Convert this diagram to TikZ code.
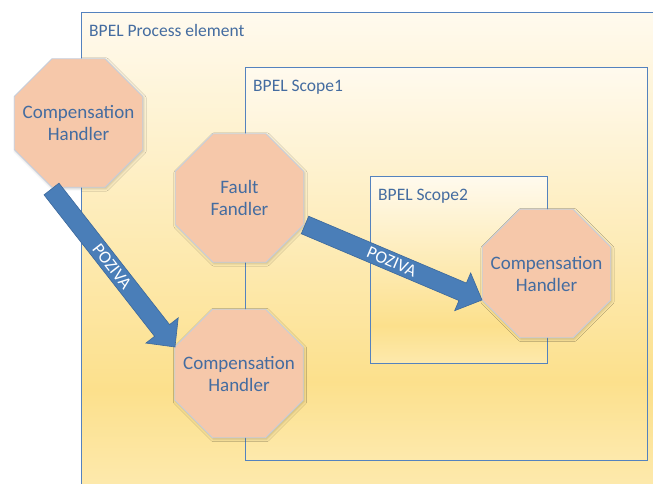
\documentclass[tikz,border=0pt]{standalone}
\usepackage{fontspec}
\setmainfont{Carlito}
\usetikzlibrary{shapes.geometric,calc,shadows.blur}
\definecolor{g0}{RGB}{255,250,238}
\definecolor{g2}{RGB}{252,224,140}
\definecolor{g3}{RGB}{253,233,172}
\definecolor{boxblue}{RGB}{84,130,190}
\definecolor{txtblue}{RGB}{68,108,160}
\definecolor{peach}{RGB}{246,200,170}
\definecolor{octaedge}{RGB}{198,206,220}
\definecolor{arrowblue}{RGB}{74,126,184}
\definecolor{arrowedge}{RGB}{60,104,155}
\pgfdeclareverticalshading{boxgrad}{100bp}{color(0bp)=(g3); color(25bp)=(g3); color(35bp)=(g2); color(75bp)=(g0); color(100bp)=(g0)}
\begin{document}
\begin{tikzpicture}[x=1pt,y=-1pt,
  boxline/.style={draw=boxblue, line width=1pt},
  container/.style={shade, shading=boxgrad, boxline, inner sep=0pt, outer sep=0pt, anchor=north west},
  octa/.style={regular polygon, regular polygon sides=8, minimum size=139pt, inner sep=0pt,
    fill=peach, draw=octaedge, line width=0.8pt,
    blur shadow={shadow xshift=1pt, shadow yshift=-1.5pt, shadow opacity=20, shadow blur radius=2.5pt}},
  octatext/.style={text=txtblue, align=center, inner sep=0pt, font=\fontsize{19}{22}\selectfont},
  boxlabel/.style={anchor=base west, inner sep=0pt, text=txtblue, font=\fontsize{17.5}{21}\selectfont},
  blockarrow/.style={fill=arrowblue, draw=arrowedge, line width=0.6pt, line join=miter},
  arrowtext/.style={text=white, font=\fontsize{17.5}{20}\selectfont, inner sep=0pt}
]
\useasboundingbox (0,0) rectangle (653,484);
% outer process element
\node[shade, shading=boxgrad, inner sep=0pt, outer sep=0pt, anchor=north west,
      minimum width=572pt, minimum height=471pt] (proc) at (81,13) {};
\draw[boxline] (proc.south west) -- (proc.north west) -- (proc.north east);
% scopes
\node[container, minimum width=402pt, minimum height=392pt] (scope1) at (245,68) {};
\node[container, minimum width=177pt, minimum height=187pt] (scope2) at (370,176) {};
% labels
\node[boxlabel] (lproc) at (89,36.5) {BPEL Process element};
\node[boxlabel] (lsc1) at (253,92) {BPEL Scope1};
\node[boxlabel] (lsc2) at (378,200) {BPEL Scope2};
% octagons
\node[octa] (ch1) at (78.5,123) {};
\node[octatext] (ch1t) at (ch1) {Compensation\\Handler};
\node[octa] (ff) at (239.5,198) {};
\node[octatext] (fft) at (ff) {Fault\\Fandler};
\node[octa] (ch2) at (239,373.5) {};
\node[octatext] (ch2t) at (ch2) {Compensation\\Handler};
\node[octa] (ch3) at (546.5,273.5) {};
\node[octatext] (ch3t) at (ch3) {Compensation\\Handler};
% arrow 1
\coordinate (a1t) at (51.5,189);
\coordinate (a1h) at (175,347);
\coordinate (a1b) at ($(a1h)!21pt!(a1t)$);
\filldraw[blockarrow] ($(a1t)!9.5pt!90:(a1h)$) -- ($(a1b)!9.5pt!90:(a1h)$) -- ($(a1b)!20.5pt!90:(a1h)$)
  -- (a1h) -- ($(a1b)!20.5pt!-90:(a1h)$) -- ($(a1b)!9.5pt!-90:(a1h)$) -- ($(a1t)!9.5pt!-90:(a1h)$) -- cycle;
\node[arrowtext, rotate=-52] (p1) at ($(a1t)!0.49!(a1h)$) {POZIVA};
% arrow 2
\coordinate (a2t) at (305,225);
\coordinate (a2h) at (482,300);
\coordinate (a2b) at ($(a2h)!21pt!(a2t)$);
\filldraw[blockarrow] ($(a2t)!9.5pt!90:(a2h)$) -- ($(a2b)!9.5pt!90:(a2h)$) -- ($(a2b)!20.5pt!90:(a2h)$)
  -- (a2h) -- ($(a2b)!20.5pt!-90:(a2h)$) -- ($(a2b)!9.5pt!-90:(a2h)$) -- ($(a2t)!9.5pt!-90:(a2h)$) -- cycle;
\node[arrowtext, rotate=-23] (p2) at ($(a2t)!0.49!(a2h)$) {POZIVA};
\end{tikzpicture}
\end{document}
